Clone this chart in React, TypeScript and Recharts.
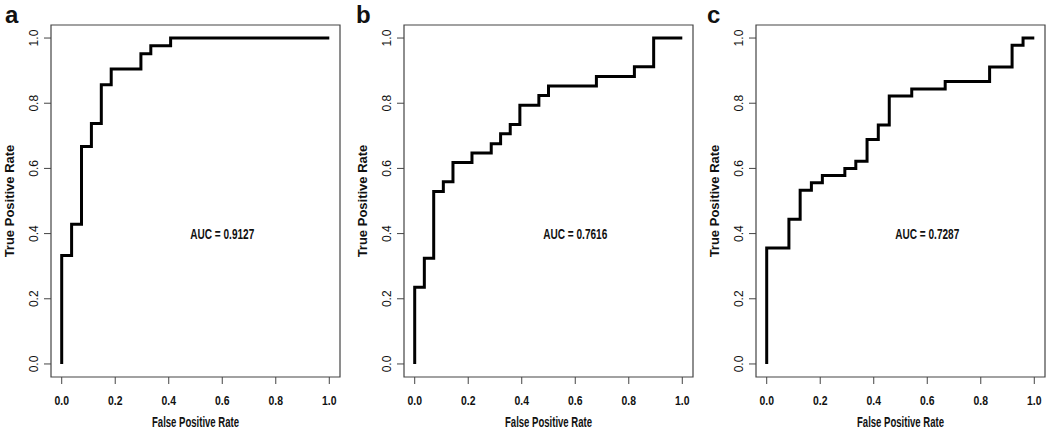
import { LineChart, Line, XAxis, YAxis, ReferenceArea, ReferenceDot } from "recharts";

// ROC points (false positive rate, true positive rate) per panel
const FPR_A = [0, 0, 0.037, 0.074, 0.111, 0.148, 0.185, 0.296, 0.333, 0.407, 1];
const TPR_A = [0, 0.333, 0.429, 0.667, 0.738, 0.857, 0.905, 0.952, 0.976, 1, 1];

const FPR_B = [0, 0, 0.036, 0.071, 0.107, 0.143, 0.214, 0.286, 0.321, 0.357, 0.393, 0.464, 0.5, 0.679, 0.821, 0.893, 1];
const TPR_B = [0, 0.235, 0.324, 0.529, 0.559, 0.618, 0.647, 0.676, 0.706, 0.735, 0.794, 0.824, 0.853, 0.882, 0.912, 1, 1];

const FPR_C = [0, 0, 0.083, 0.125, 0.167, 0.208, 0.292, 0.333, 0.375, 0.417, 0.458, 0.542, 0.667, 0.833, 0.917, 0.958, 1];
const TPR_C = [0, 0.356, 0.444, 0.533, 0.556, 0.578, 0.6, 0.622, 0.689, 0.733, 0.822, 0.844, 0.867, 0.911, 0.978, 1, 1];

const AUC_LABELS = ["AUC = 0.9127", "AUC = 0.7616", "AUC = 0.7287"];
const PANEL_LETTERS = ["a", "b", "c"];
const TICKS = [0, 0.2, 0.4, 0.6, 0.8, 1];

const SANS = "'Liberation Sans', Arial, Helvetica, sans-serif";
const NARROW = "'Liberation Sans Narrow', 'Arial Narrow', 'Liberation Sans', Arial, sans-serif";
const AXIS_GREY = "#444";

const WIDTH = 350;
const HEIGHT = 433;
const TOP = 25;
const XAXIS_H = 56;
const BOX_BOTTOM = HEIGHT - XAXIS_H;

function toRows(fpr: number[], tpr: number[]) {
  return fpr.map((x, i) => ({ fpr: x, tpr: tpr[i] }));
}

const PANELS = [
  { rows: toRows(FPR_A, TPR_A), left: 0, boxLeft: 51, right: 10, letterX: 5 },
  { rows: toRows(FPR_B, TPR_B), left: 350, boxLeft: 54, right: 7, letterX: 6 },
  { rows: toRows(FPR_C, TPR_C), left: 700, boxLeft: 56, right: 5, letterX: 7 },
];

function RocPanel({ index }: { index: number }) {
  const p = PANELS[index];
  const plotW = WIDTH - p.boxLeft - p.right;
  const centerX = p.boxLeft + plotW / 2;
  const centerY = TOP + (BOX_BOTTOM - TOP) / 2;

  const xTick = (props: any) => (
    <text
      x={props.x}
      y={BOX_BOTTOM + 27.5}
      textAnchor="middle"
      fontFamily={NARROW}
      fontWeight="bold"
      fontSize={13}
      textLength={14.5}
      lengthAdjust="spacingAndGlyphs"
      fill="#111"
    >
      {Number(props.payload.value).toFixed(1)}
    </text>
  );

  const yTick = (props: any) => (
    <text
      transform={`translate(${p.boxLeft - 13}, ${props.y}) rotate(-90)`}
      textAnchor="middle"
      fontFamily={SANS}
      fontSize={12}
      fill="#111"
    >
      {Number(props.payload.value).toFixed(1)}
    </text>
  );

  return (
    <div style={{ position: "absolute", left: p.left, top: 0, width: WIDTH, height: HEIGHT }}>
      <LineChart
        width={WIDTH}
        height={HEIGHT}
        data={p.rows}
        margin={{ top: TOP, right: p.right, left: 0, bottom: 0 }}
      >
        <XAxis
          type="number"
          dataKey="fpr"
          domain={[-0.04, 1.04]}
          ticks={TICKS}
          allowDataOverflow
          height={XAXIS_H}
          axisLine={false}
          tickLine={{ stroke: AXIS_GREY }}
          tickSize={7}
          tick={xTick}
          interval={0}
        />
        <YAxis
          type="number"
          dataKey="tpr"
          domain={[-0.04, 1.04]}
          ticks={TICKS}
          allowDataOverflow
          width={p.boxLeft}
          axisLine={false}
          tickLine={{ stroke: AXIS_GREY }}
          tickSize={7}
          tick={yTick}
          interval={0}
        />
        <ReferenceArea
          x1={-0.04}
          x2={1.04}
          y1={-0.04}
          y2={1.04}
          fill="none"
          fillOpacity={0}
          stroke={AXIS_GREY}
          strokeWidth={1.2}
        />
        <Line
          type="stepAfter"
          dataKey="tpr"
          stroke="#000"
          strokeWidth={3}
          dot={false}
          isAnimationActive={false}
        />
        <ReferenceDot
          x={0.6}
          y={0.4}
          r={0}
          fill="none"
          stroke="none"
          label={{
            content: (lp: any) => {
              const vb = lp.viewBox || {};
              return (
                <text
                  x={(vb.x ?? 0) + (vb.width ?? 0) / 2}
                  y={(vb.y ?? 0) + (vb.height ?? 0) / 2 + 5}
                  textAnchor="middle"
                  fontFamily={NARROW}
                  fontWeight="bold"
                  fontSize={14}
                  textLength={64}
                  lengthAdjust="spacingAndGlyphs"
                  fill="#111"
                >
                  {AUC_LABELS[index]}
                </text>
              );
            },
          }}
        />
        <text
          x={centerX}
          y={BOX_BOTTOM + 50}
          textAnchor="middle"
          fontFamily={NARROW}
          fontWeight="bold"
          fontSize={15}
          textLength={87}
          lengthAdjust="spacingAndGlyphs"
          fill="#111"
        >
          False Positive Rate
        </text>
        <text
          transform={`translate(${p.boxLeft - 37}, ${centerY}) rotate(-90)`}
          textAnchor="middle"
          fontFamily={SANS}
          fontWeight="bold"
          fontSize={13}
          fill="#111"
        >
          True Positive Rate
        </text>
        <text x={p.letterX} y={23} fontFamily={SANS} fontWeight="bold" fontSize={24} fill="#111">
          {PANEL_LETTERS[index]}
        </text>
      </LineChart>
    </div>
  );
}

export default function App() {
  return (
    <div
      style={{
        position: "absolute",
        left: 0,
        top: 0,
        width: 1050,
        height: 433,
        background: "#fff",
        fontFamily: SANS,
      }}
    >
      {PANELS.map((_, i) => (
        <RocPanel key={i} index={i} />
      ))}
    </div>
  );
}
